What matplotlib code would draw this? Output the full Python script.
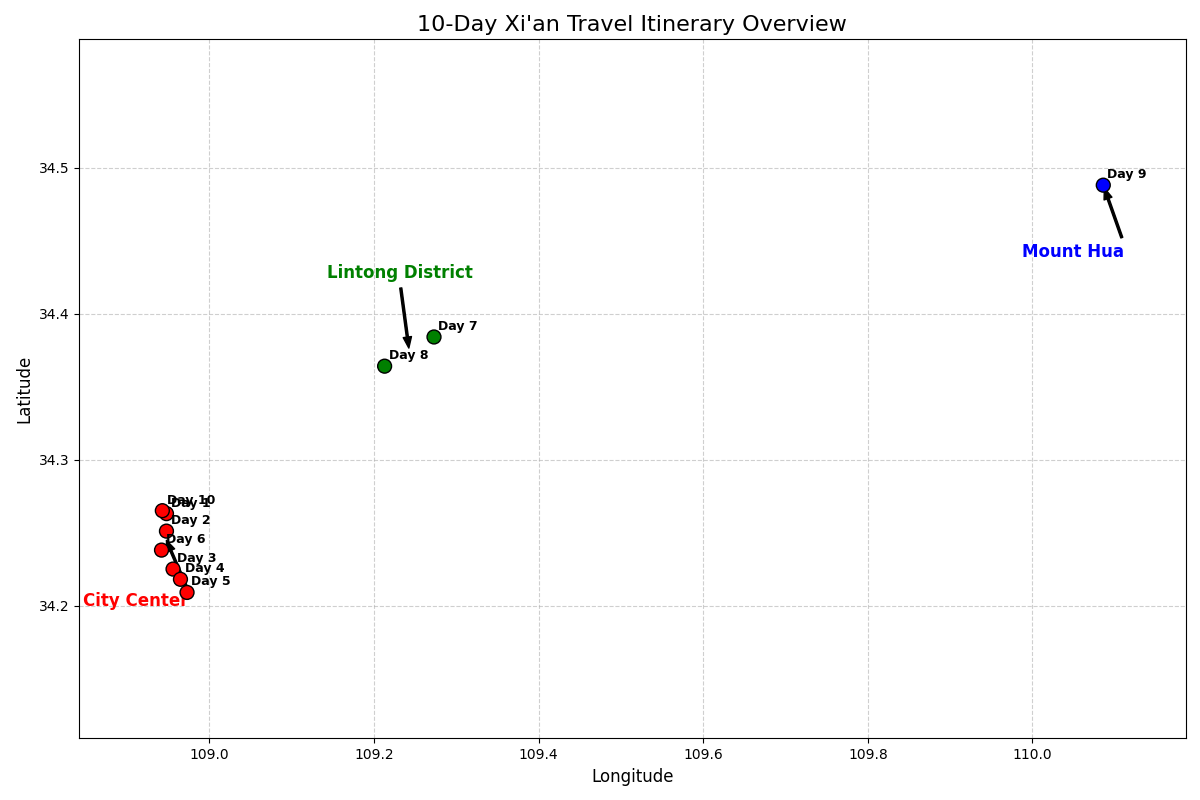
import matplotlib
matplotlib.use("Agg")
import matplotlib.pyplot as plt

# === Itinerary stops ===
days = ["Day 1", "Day 2", "Day 3", "Day 4", "Day 5", "Day 6", "Day 7", "Day 8", "Day 9", "Day 10"]
lons = [108.948, 108.948, 108.956, 108.965, 108.973, 108.942, 109.273, 109.213, 110.086, 108.943]
lats = [34.263, 34.251, 34.225, 34.218, 34.209, 34.238, 34.384, 34.364, 34.488, 34.265]
colors = ["red", "red", "red", "red", "red", "red", "green", "green", "blue", "red"]

# === Area labels ===
area_names = ["City Center", "Lintong District", "Mount Hua"]
area_colors = ["red", "green", "blue"]
area_xy = [(108.9465, 34.2466), (109.243, 34.374), (110.086, 34.488)]
area_text_xy = [(108.911, 34.203), (109.2316, 34.428), (110.049, 34.442)]

fig, ax = plt.subplots(figsize=(12, 8), dpi=100)

ax.scatter(lons, lats, c=colors, s=100, edgecolors="black", zorder=5)

for day, x, y in zip(days, lons, lats):
    ax.annotate(day, (x, y), xytext=(3, 5), textcoords="offset points",
                fontsize=9, fontweight="bold", zorder=6)

for name, col, xy, txy in zip(area_names, area_colors, area_xy, area_text_xy):
    ax.annotate(name, xy=xy, xytext=txy, ha="center", va="center",
                fontsize=12, fontweight="bold", color=col,
                arrowprops=dict(facecolor="black", shrink=0.05, width=1.5, headwidth=6, headlength=8),
                zorder=4)

ax.set_xlim(108.842, 110.186)
ax.set_ylim(34.109, 34.588)
ax.set_title("10-Day Xi'an Travel Itinerary Overview", fontsize=16)
ax.set_xlabel("Longitude", fontsize=12)
ax.set_ylabel("Latitude", fontsize=12)
ax.grid(True, linestyle="--", alpha=0.6)

fig.subplots_adjust(left=0.066, right=0.988, bottom=0.077, top=0.951)
plt.savefig("out.png")
